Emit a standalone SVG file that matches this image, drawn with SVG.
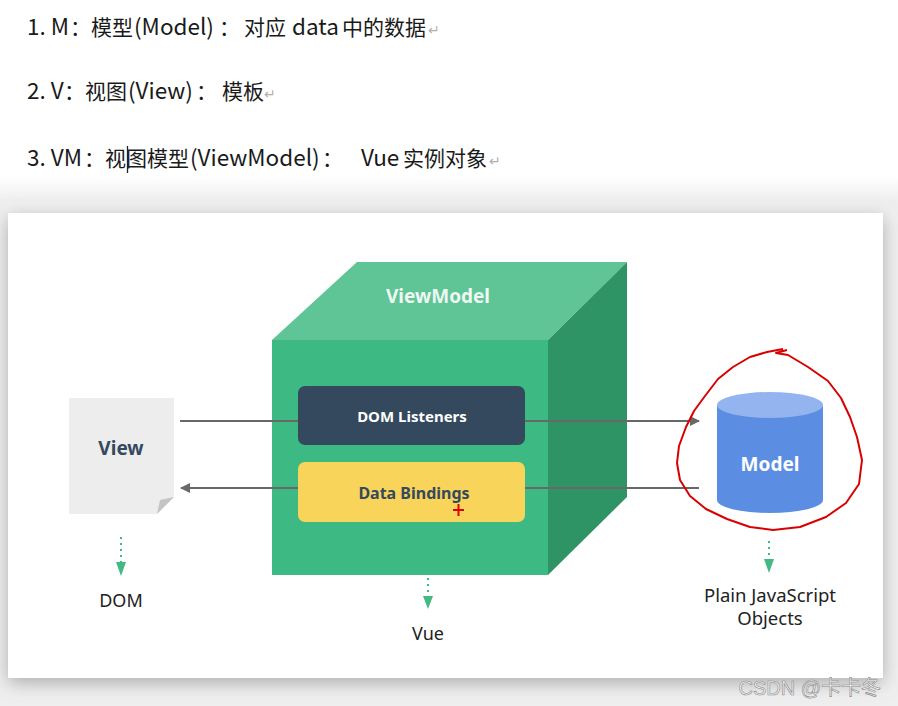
<svg xmlns="http://www.w3.org/2000/svg" width="898" height="706" viewBox="0 0 898 706">
<defs>
<style>
.cjk{font-family:"Noto Sans CJK SC","Noto Sans",sans-serif;font-size:21px;fill:#1a1a1a}
.lt{font-size:22.5px}
.ret{fill:#b0b0b0;font-size:14px}
.lbl{font-family:"Noto Sans","Open Sans",sans-serif;text-anchor:middle}
.b{font-weight:bold}
.conn{stroke:#686868;stroke-width:2;fill:none}
.dot{stroke:#42b983;stroke-width:2;stroke-dasharray:2 4;fill:none}
.tri{fill:#42b983}
</style>
<linearGradient id="bg" x1="0" y1="0" x2="0" y2="1">
<stop offset="0" stop-color="#ffffff"/>
<stop offset="1" stop-color="#efefef"/>
</linearGradient>
<filter id="sh" x="-10%" y="-15%" width="120%" height="135%">
<feDropShadow dx="0" dy="5" stdDeviation="9" flood-color="#777" flood-opacity="0.55"/>
</filter>
<marker id="ah" viewBox="0 0 10 10" refX="9" refY="5" markerWidth="5" markerHeight="5" orient="auto">
<path d="M0,0 L10,5 L0,10 z" fill="#686868"/>
</marker>
</defs>
<rect width="898" height="706" fill="#ffffff"/>
<rect x="0" y="176" width="898" height="24" fill="url(#bg)"/>
<rect x="0" y="200" width="898" height="506" fill="#efefef"/>
<!-- notes text -->
<g id="notes">
<text class="cjk" y="35"><tspan class="lt" x="27">1. M</tspan><tspan x="70">：</tspan><tspan x="91">模型</tspan><tspan class="lt" x="134">(Model)</tspan><tspan x="219">：</tspan><tspan x="244">对应</tspan><tspan class="lt" x="292">data</tspan><tspan x="342">中的数据</tspan><tspan class="ret" x="428">↵</tspan></text>
<text class="cjk" y="99"><tspan class="lt" x="27">2. V</tspan><tspan x="64">：</tspan><tspan x="85">视图</tspan><tspan class="lt" x="128">(View)</tspan><tspan x="196">：</tspan><tspan x="222">模板</tspan><tspan class="ret" x="264">↵</tspan></text>
<text class="cjk" y="166"><tspan class="lt" x="27">3. VM</tspan><tspan x="84">：</tspan><tspan x="105">视图模型</tspan><tspan class="lt" x="190">(ViewModel)</tspan><tspan x="322">：</tspan><tspan class="lt" x="361">Vue</tspan><tspan x="403">实例对象</tspan><tspan class="ret" x="489">↵</tspan></text>
<line x1="127.5" y1="146" x2="127.5" y2="173" stroke="#222" stroke-width="1.3"/>
</g>
<!-- card -->
<rect id="card" x="8" y="213" width="875" height="465" fill="#ffffff" filter="url(#sh)"/>
<!-- ViewModel cube -->
<g id="viewmodel">
<polygon points="272,340 357,262 627,262 548,340" fill="#5fc596"/>
<polygon points="548,340 627,262 627,497 548,575" fill="#2f9465"/>
<rect x="272" y="340" width="276" height="235" fill="#3dba83"/>
<text class="lbl b" x="438" y="303" font-size="19" fill="#eef8f2">ViewModel</text>
</g>
<!-- connectors -->
<g id="connectors">
<line class="conn" x1="180" y1="421" x2="699" y2="421" marker-end="url(#ah)"/>
<line class="conn" x1="699" y1="488" x2="181" y2="488" marker-end="url(#ah)"/>
<line class="dot" x1="121" y1="537" x2="121" y2="562"/>
<polygon class="tri" points="116,562 126,562 121,576"/>
<line class="dot" x1="428" y1="578" x2="428" y2="596"/>
<polygon class="tri" points="423,596 433,596 428,609"/>
<line class="dot" x1="769" y1="541" x2="769" y2="559"/>
<polygon class="tri" points="764,559 774,559 769,573"/>
</g>
<g id="dom-listeners">
<rect x="298" y="386" width="227" height="59" rx="7" fill="#34495e"/>
<text class="lbl b" x="412" y="422" font-size="15" fill="#ffffff">DOM Listeners</text>
</g>
<g id="data-bindings">
<rect x="298" y="462" width="227" height="60" rx="7" fill="#f9d45a"/>
<text class="lbl b" x="414" y="499" font-size="16" fill="#34495e">Data Bindings</text>
</g>
<g id="view">
<polygon points="69,398 174,398 174,497 157,514 69,514" fill="#ededed"/>
<polygon points="174,497 157,514 160,500" fill="#c4c4c4"/>
<text class="lbl b" x="121" y="455" font-size="19" fill="#34495e">View</text>
</g>
<g id="model">
<path d="M717,405 L717,500 A53,13 0 0 0 823,500 L823,405 Z" fill="#5b8ee2"/>
<ellipse cx="770" cy="405" rx="53" ry="13" fill="#93b4ee"/>
<text class="lbl b" x="770" y="471" font-size="19" fill="#ffffff">Model</text>
</g>
<g id="labels">
<text class="lbl" x="121" y="607" font-size="18" fill="#222">DOM</text>
<text class="lbl" x="428" y="640" font-size="18" fill="#222">Vue</text>
<text class="lbl" x="770" y="602" font-size="18.5" fill="#222">Plain JavaScript</text>
<text class="lbl" x="770" y="625" font-size="18.5" fill="#222">Objects</text>
</g>
<!-- annotations -->
<g id="annotation">
<path d="M783,349 L767,352 L750,357 L733,367 L718,379 L705,396 L694,411 L686,427 L679,446 L677,463 L680,480 L690,496 L706,509 L727,519 L750,527 L773,530 L800,527 L826,517 L846,503 L859,484 L862,460 L857,437 L850,417 L841,398 L828,381 L808,367 L788,355 L776,353 L787,350" fill="none" stroke="#d90000" stroke-width="2" stroke-linejoin="round"/>
<line x1="453" y1="510" x2="464" y2="510" stroke="#e00000" stroke-width="2"/>
<line x1="458.5" y1="504" x2="458.5" y2="516" stroke="#e00000" stroke-width="2"/>
</g>
<text x="881" y="695" text-anchor="end" font-family="'Liberation Sans Narrow','Liberation Sans','Noto Sans CJK SC',sans-serif" font-size="20" fill="#f2f2f2" stroke="#8a8a8a" stroke-width="0.6">CSDN @卡卡冬</text>
</svg>
